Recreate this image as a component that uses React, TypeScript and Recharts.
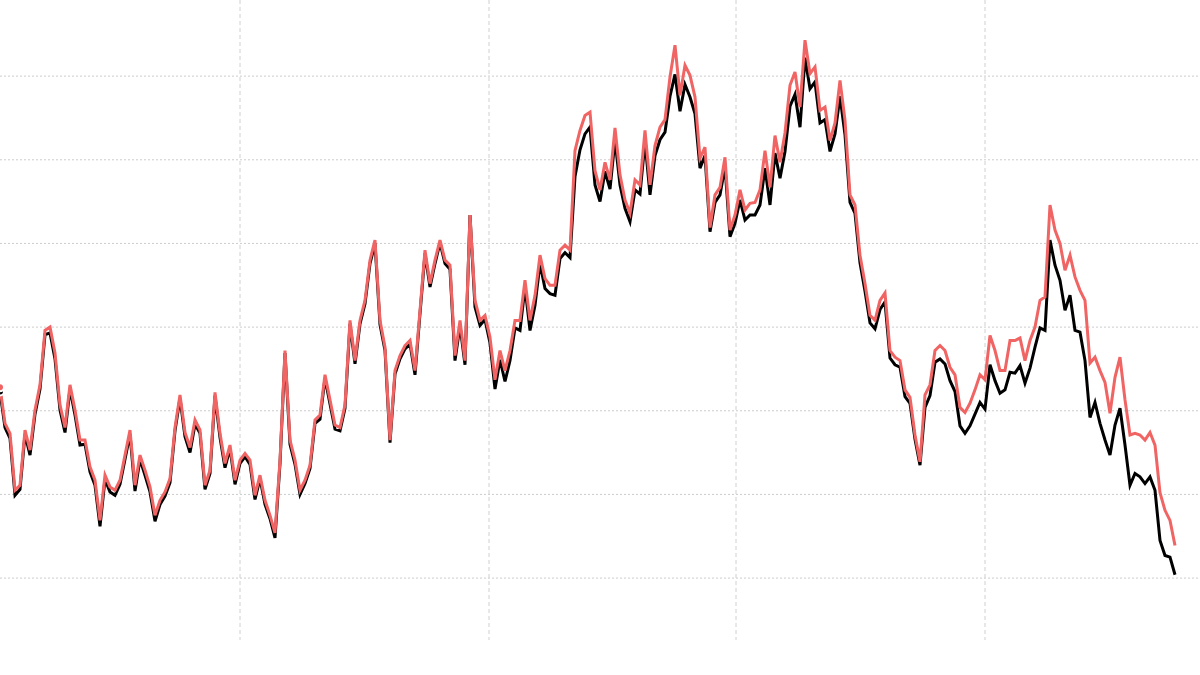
import React from "react";
import { LineChart, Line, XAxis, YAxis, CartesianGrid } from "recharts";

// Red series (index level), one value per trading step
const redSeries: number[] = [
  62.8, 58.5, 57.3, 50.5, 51.1, 57.7, 55.3, 60.1, 63.1, 69.6,
  70.0, 66.9, 60.7, 58.0, 63.1, 60.1, 56.5, 56.5, 53.3, 51.7,
  46.9, 52.3, 50.9, 50.5, 51.7, 54.7, 57.7, 51.1, 54.7, 52.9,
  50.9, 47.5, 49.3, 50.3, 51.9, 58.0, 61.9, 57.4, 55.6, 58.9,
  57.7,
  51.1, 52.9, 62.2, 57.3, 53.7, 55.9, 51.7, 54.1, 54.9, 54.1,
  49.9, 52.3, 49.3, 47.5, 45.4, 54.1, 67.2, 56.5, 54.1, 50.5,
  51.7, 53.5, 58.9, 59.5, 64.3, 61.3, 58.3, 58.0, 60.7, 70.8,
  66.0, 70.8, 73.2, 78.0, 80.4, 70.8, 67.6, 56.5, 64.8, 66.6,
  67.8, 68.4, 64.8, 72.0, 79.2, 75.2, 78.0, 80.4, 78.0, 77.4,
  66.6, 70.8, 66.0, 83.4, 73.2, 70.8, 71.4, 68.8, 63.7, 67.2,
  64.8, 67.2, 70.8, 70.8, 75.6, 70.8, 73.8, 78.6, 75.8, 75.0,
  75.0, 79.2, 79.8, 79.2, 91.1, 93.5, 95.3, 95.7, 88.7, 86.4,
  89.7, 87.6, 93.8, 88.2, 85.2, 83.6, 87.6, 87.0, 93.5, 87.0,
  91.7, 93.9, 94.8, 99.9, 103.7, 97.7, 101.3, 100.1, 97.5, 90.2,
  91.5, 81.9, 85.8, 86.7, 90.3, 81.6, 83.4, 86.4, 84.0, 84.8,
  84.9, 86.4, 91.1, 86.7, 92.9, 89.7, 93.2, 98.9, 100.5, 96.3,
  104.3, 100.3, 101.1, 95.9, 96.3, 92.3, 94.4, 99.5, 94.7, 85.8,
  84.6, 78.6, 75.2, 71.4, 70.8, 73.2, 74.1, 67.2, 66.4, 66.0,
  62.5, 61.6, 57.1, 53.9, 61.9, 63.1, 67.2, 67.8, 67.2, 65.2,
  64.3, 60.4, 59.8, 60.9, 62.5, 64.3, 63.7, 69.0, 67.2, 64.8,
  64.8, 68.4, 68.4, 68.7, 66.0, 68.4, 70.0, 73.2, 73.6, 84.6,
  81.6, 80.0, 76.8, 78.6, 76.0, 74.4, 73.2, 65.7, 66.4, 64.8,
  63.4, 59.7, 64.0, 66.4, 61.3, 57.1, 57.3, 57.1, 56.5, 57.4,
  55.9, 50.2, 48.1, 46.9, 43.9,
];

// Black series (index level)
const blackSeries: number[] = [
  62.3, 58.0, 56.7, 49.9, 50.6, 57.2, 54.7, 59.6, 62.6, 69.1,
  69.3, 66.2, 60.1, 57.4, 62.6, 59.5, 55.9, 56.0, 52.7, 51.1,
  46.2, 51.8, 50.3, 49.9, 51.2, 54.2, 57.2, 50.4, 54.2, 52.3,
  50.3, 46.8, 48.8, 49.8, 51.4, 57.6, 61.5, 56.9, 55.0, 58.4,
  57.3,
  50.6, 52.5, 61.8, 56.8, 53.2, 55.5, 51.2, 53.7, 54.5, 53.6,
  49.4, 51.9, 48.8, 47.1, 44.8, 53.7, 66.9, 56.0, 53.6, 50.0,
  51.3, 53.1, 58.5, 59.0, 63.9, 60.8, 57.8, 57.6, 60.3, 70.4,
  65.6, 70.4, 72.8, 77.6, 80.0, 70.3, 67.2, 56.2, 64.4, 66.2,
  67.4, 68.0, 64.3, 71.6, 78.8, 74.8, 77.6, 80.1, 77.6, 76.9,
  66.0, 70.2, 65.5, 83.4, 72.4, 70.2, 70.9, 68.1, 62.6, 66.1,
  63.5, 66.0, 69.9, 69.6, 74.8, 69.6, 72.6, 77.6, 74.6, 74.0,
  73.8, 78.2, 78.9, 78.3, 88.0, 91.2, 93.1, 93.9, 87.0, 85.0,
  88.6, 86.5, 92.4, 87.0, 84.2, 82.6, 86.4, 85.9, 92.2, 85.8,
  90.5, 92.4, 93.3, 97.6, 100.2, 95.8, 99.0, 97.5, 95.5, 89.0,
  90.5, 81.4, 84.9, 85.8, 89.2, 80.8, 82.4, 85.2, 82.8, 83.4,
  83.4, 84.6, 89.0, 84.6, 90.8, 87.8, 91.0, 96.4, 97.8, 93.9,
  102.2, 98.5, 99.3, 94.4, 94.8, 91.0, 93.1, 97.6, 93.0, 84.9,
  83.6, 77.7, 74.3, 70.5, 69.8, 72.1, 73.0, 66.3, 65.5, 65.2,
  61.7, 60.9, 56.6, 53.5, 60.4, 61.8, 65.8, 66.2, 65.6, 63.6,
  62.3, 58.2, 57.3, 58.2, 59.6, 61.0, 60.2, 65.5, 63.6, 62.1,
  62.5, 64.6, 64.5, 65.4, 63.3, 65.1, 67.6, 69.9, 69.6, 80.4,
  77.4, 75.6, 72.0, 73.8, 69.6, 69.4, 66.0, 59.2, 61.0, 58.5,
  56.5, 54.7, 58.3, 60.3, 55.9, 51.1, 52.5, 52.1, 51.3, 52.1,
  50.5, 44.5, 42.7, 42.5, 40.4,
];

const xTicks: number[] = [48, 97.8, 147.2, 197];
const yTicks: number[] = [40, 50, 60, 70, 80, 90, 100];
const xDomain: [number, number] = [0, 240];
const yDomain: [number, number] = [32.6, 109.1];

const data = redSeries.map((v, i) => ({ day: i, red: v, black: blackSeries[i] }));

const applyScale = (s: any, t: number): number | null => {
  if (typeof s === "function") return s(t);
  if (s && typeof s.map === "function") return s.map(t);
  return null;
};

const hGen = (props: any) => {
  const s = props?.yAxis?.scale;
  const off = props?.offset ?? { top: 0, height: 640 };
  return yTicks.map((t) => {
    const v = applyScale(s, t);
    if (typeof v === "number" && isFinite(v)) return v;
    return off.top + (1 - (t - yDomain[0]) / (yDomain[1] - yDomain[0])) * off.height;
  });
};
const vGen = (props: any) => {
  const s = props?.xAxis?.scale;
  const off = props?.offset ?? { left: 0, width: 1200 };
  return xTicks.map((t) => {
    const v = applyScale(s, t);
    if (typeof v === "number" && isFinite(v)) return v;
    return off.left + ((t - xDomain[0]) / (xDomain[1] - xDomain[0])) * off.width;
  });
};

export default function App() {
  return (
    <div style={{ position: "absolute", left: 0, top: 0, width: 1200, height: 675, background: "#fff" }}>
      <LineChart width={1200} height={675} data={data} margin={{ top: 0, right: 0, bottom: 35, left: 0 }}>
        <CartesianGrid
          horizontal={true}
          vertical={false}
          stroke="#cccccc"
          strokeDasharray="2 2"
          horizontalCoordinatesGenerator={hGen}
        />
        <CartesianGrid
          horizontal={false}
          vertical={true}
          stroke="#d0d0d0"
          strokeDasharray="4 3"
          verticalCoordinatesGenerator={vGen}
        />
        <XAxis dataKey="day" type="number" domain={xDomain} ticks={xTicks} hide />
        <YAxis type="number" domain={yDomain} ticks={yTicks} hide />
        <Line type="linear" dataKey="black" stroke="#000000" strokeWidth={3} dot={false} isAnimationActive={false} />
        <Line type="linear" dataKey="red" stroke="#f06464" strokeWidth={3} dot={false} isAnimationActive={false} />
      </LineChart>
    </div>
  );
}
